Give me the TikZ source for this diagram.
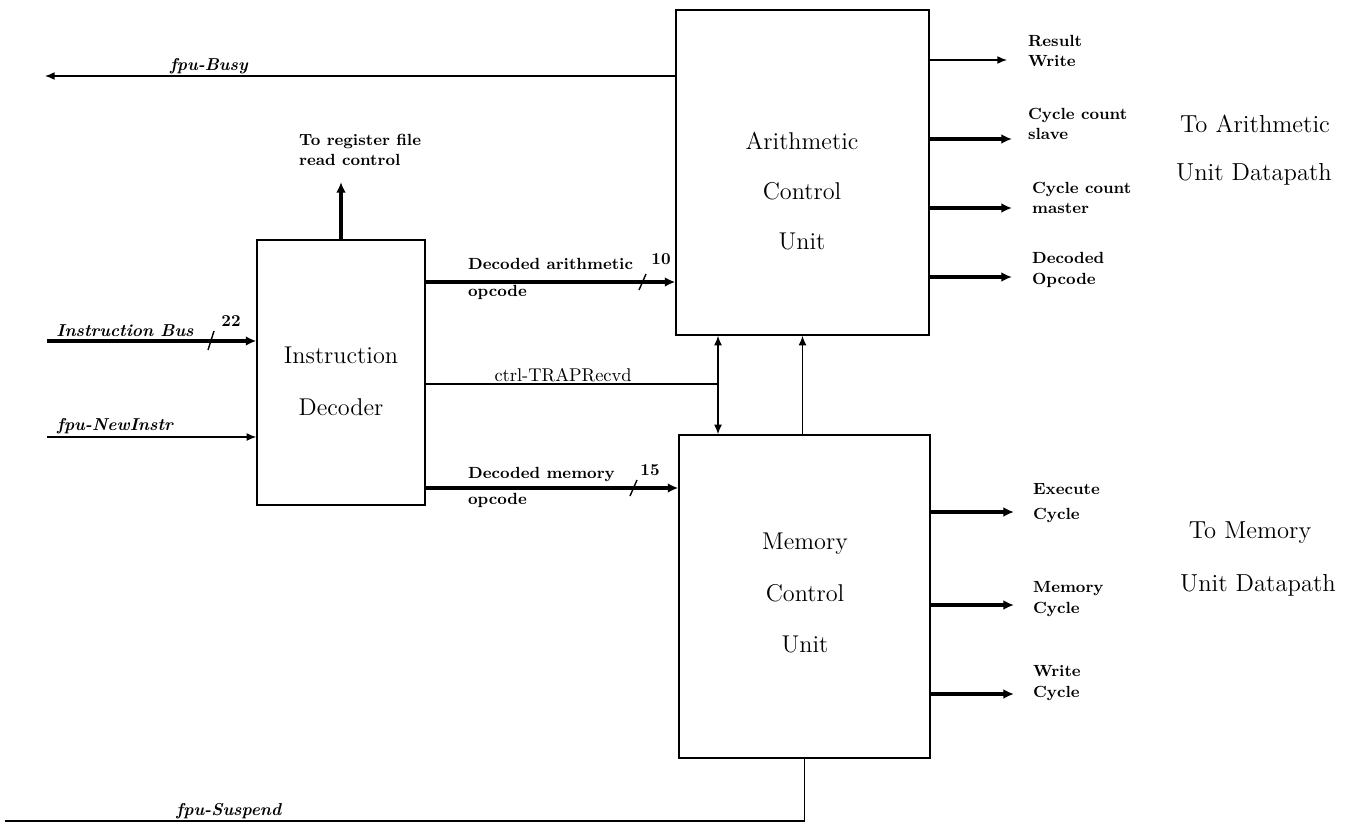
\documentclass[tikz,border=0pt]{standalone}
\usepackage{tikz}
\usetikzlibrary{arrows.meta,positioning,calc}
\tikzset{
  unit/.style={rectangle,draw,line width=0.8pt,inner sep=0pt,fill=white},
  utxt/.style={font=\fontsize{13.8}{28.5}\selectfont,align=center},
  wire/.style={line width=0.8pt},
  sig/.style={-{Latex[length=5.5pt,width=4.5pt]},line width=0.8pt},
  bus/.style={-{Latex[length=6pt,width=5.5pt]},line width=1.9pt},
  dsig/.style={{Latex[length=5.5pt,width=4.5pt]}-{Latex[length=5.5pt,width=4.5pt]},line width=0.8pt},
  lbl/.style={font=\fontsize{9.2}{11.5}\selectfont\bfseries,align=left,inner sep=1pt},
  olbl/.style={font=\fontsize{9.2}{15.3}\selectfont\bfseries,align=left,inner sep=1pt},
  ilbl/.style={font=\fontsize{9.8}{10}\selectfont\bfseries\itshape,inner sep=1pt},
  wdt/.style={font=\fontsize{9.5}{10}\selectfont\bfseries,inner sep=1pt},
  side/.style={font=\fontsize{14}{15}\selectfont},
}

\begin{document}
\begin{tikzpicture}[x=0.02cm,y=-0.02cm]
  \useasboundingbox (0,0) rectangle (1351,828);
  % blocks
  \node[unit,minimum width=5.06cm,minimum height=6.5cm]  (acu) at (802.5,172.5) {};
  \node[unit,minimum width=5.02cm,minimum height=6.46cm] (mcu) at (804.5,596.5) {};
  \node[unit,minimum width=3.36cm,minimum height=5.3cm]  (dec) at (341,372.5) {};
  \node[utxt] (acut) at (802,191) {Arithmetic\\Control\\Unit};
  \node[utxt,font=\fontsize{13.8}{29.5}\selectfont] (mcut) at (805,593) {Memory\\Control\\Unit};
  \node[utxt,font=\fontsize{13.8}{29.5}\selectfont] (dect) at (341,381) {Instruction\\Decoder};

  % free ends
  \coordinate (busy) at (45,76);
  \coordinate (regf) at (341,182);
  \coordinate (ibus) at (47,341);
  \coordinate (newi) at (47,437);
  \coordinate (susp) at (5,821);
  \coordinate (trap) at (718,384);
  \coordinate (aop)  at (0,282);
  \coordinate (mop)  at (0,488);

  % inputs and decoder
  \draw[sig] (acu.west |- busy) -- node[ilbl,above,pos=0.74] {fpu-Busy} (busy);
  \draw[bus] (dec.north) -- (regf);
  \node[lbl,anchor=west] (regt) at (297,150) {To register file\\read control};
  \draw[bus] (ibus) -- (dec.west |- ibus);
  \node[ilbl] (ibust) at (125,331) {Instruction Bus};
  \draw[wire] (208,350) -- (214,331);
  \node[wdt] (w22) at (231,321) {22};
  \draw[sig] (newi) -- (dec.west |- newi);
  \node[ilbl] (newit) at (115,426) {fpu-NewInstr};

  % decoder to units
  \draw[bus] (dec.east |- aop) -- (acu.west |- aop);
  \node[olbl,anchor=west] (aopt) at (466,279) {Decoded arithmetic\\opcode};
  \draw[wire] (639,290) -- (646,274);
  \node[wdt] (w10) at (661,259) {10};
  \draw[bus] (dec.east |- mop) -- (mcu.west |- mop);
  \node[olbl,anchor=west] (mopt) at (466,487.5) {Decoded memory\\opcode};
  \draw[wire] (630,496) -- (637,480);
  \node[wdt] (w15) at (650,470) {15};
  \draw[wire] (dec.east |- trap) -- node[lbl,above,pos=0.47,font=\fontsize{10.5}{11}\selectfont] {ctrl-TRAPRecvd} (trap);
  \draw[dsig] (acu.south -| trap) -- (mcu.north -| trap);
  \draw[sig] (mcu.north -| acu.south) -- (acu.south);
  \draw[wire] (mcu.south) |- node[ilbl,above,pos=0.86] {fpu-Suspend} (susp);

  % arithmetic outputs
  \coordinate (rw) at (1007,60);
  \coordinate (cs) at (1012,139);
  \coordinate (cm) at (1012,208);
  \coordinate (dop) at (1012,277);
  \draw[sig] (acu.east |- rw) -- (rw);
  \node[lbl,anchor=west] (rwt) at (1026,51) {Result\\Write};
  \draw[bus] (acu.east |- cs) -- (cs);
  \node[lbl,anchor=west] (cst) at (1026,124) {Cycle count\\slave};
  \draw[bus] (acu.east |- cm) -- (cm);
  \node[lbl,anchor=west] (cmt) at (1030,198) {Cycle count\\master};
  \draw[bus] (acu.east |- dop) -- (dop);
  \node[lbl,anchor=west] (dopt) at (1030,270) {Decoded\\Opcode};
  \node[side] (toa) at (1255,124) {To Arithmetic};
  \node[side] (toau) at (1254,174) {Unit Datapath};

  % memory outputs
  \coordinate (ec) at (1014,512);
  \coordinate (mc) at (1014,605);
  \coordinate (wc) at (1014,694);
  \draw[bus] (mcu.east |- ec) -- (ec);
  \node[lbl,anchor=west,font=\fontsize{9.2}{14}\selectfont\bfseries] (ect) at (1031,503) {Execute\\Cycle};
  \draw[bus] (mcu.east |- mc) -- (mc);
  \node[lbl,anchor=west] (mct) at (1031,599) {Memory\\Cycle};
  \draw[bus] (mcu.east |- wc) -- (wc);
  \node[lbl,anchor=west] (wct) at (1031,683) {Write\\Cycle};
  \node[side] (tom) at (1250,533) {To Memory};
  \node[side] (tomu) at (1258,585) {Unit Datapath};
\end{tikzpicture}
\end{document}
